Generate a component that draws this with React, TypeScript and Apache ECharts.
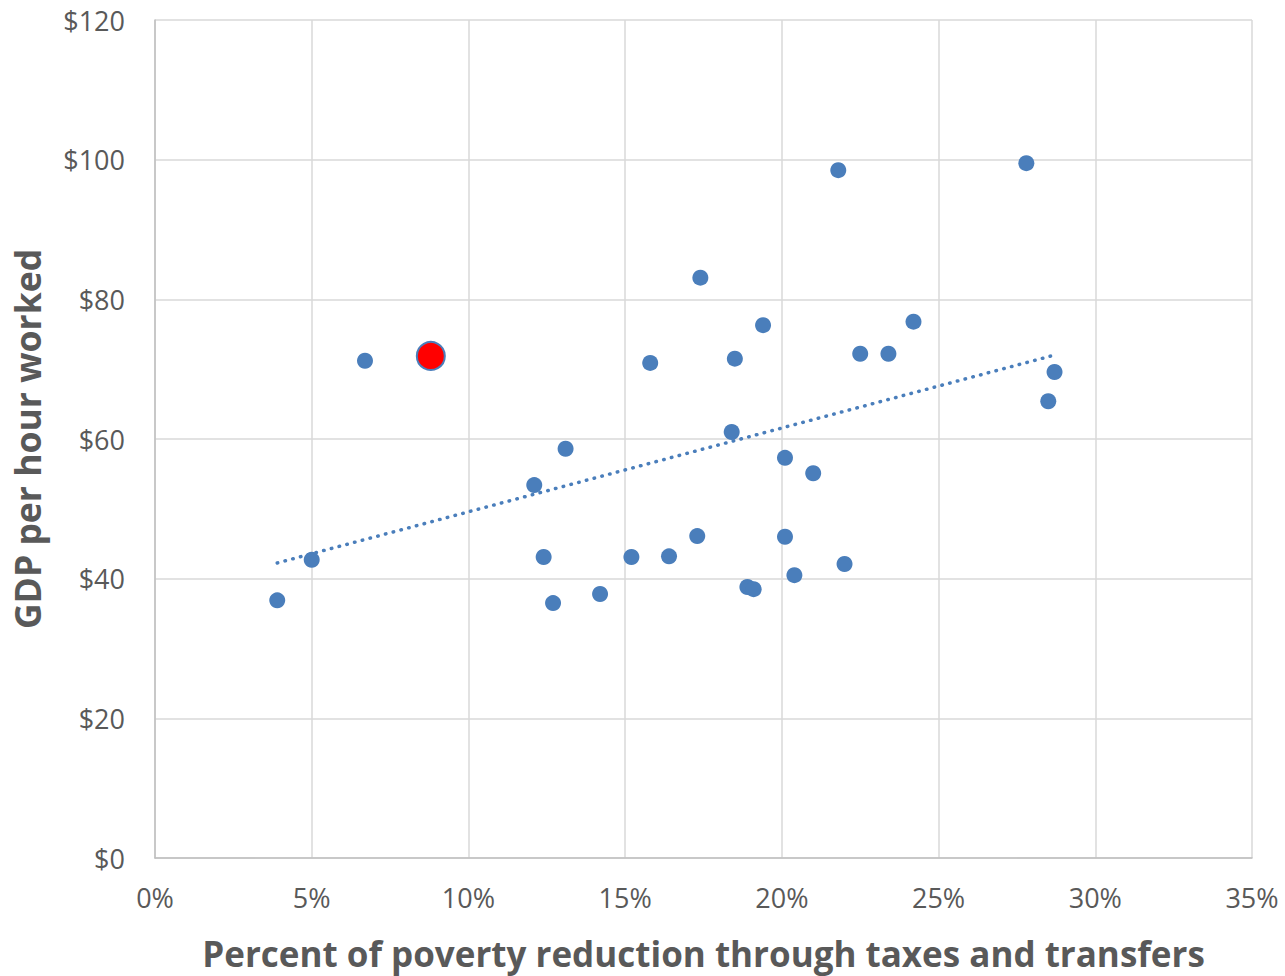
import React, { useEffect, useRef } from "react";
import * as echarts from "echarts";

const povertyReduction: number[] = [
  3.9, 5.0, 6.7, 12.1, 12.4, 12.7, 13.1, 14.2, 15.2, 15.8, 16.4, 17.3, 17.4, 18.4, 18.5,
  18.9, 19.1, 19.4, 20.1, 20.1, 20.4, 21.0, 21.8, 22.0, 22.5, 23.4, 24.2, 27.8, 28.5, 28.7,
];
const gdpPerHour: number[] = [
  36.9, 42.7, 71.2, 53.4, 43.1, 36.5, 58.6, 37.8, 43.1, 70.9, 43.2, 46.1, 83.1, 61.0, 71.5,
  38.8, 38.5, 76.3, 57.3, 46.0, 40.5, 55.1, 98.5, 42.1, 72.2, 72.2, 76.8, 99.5, 65.4, 69.6,
];
const highlightPoint: [number, number] = [8.8, 71.9];

const xTicks = [0, 5, 10, 15, 20, 25, 30, 35];
const yTicks = [0, 20, 40, 60, 80, 100, 120];

const xTitle = "Percent of poverty reduction through taxes and transfers";
const yTitle = "GDP per hour worked";

function linearFit(xs: number[], ys: number[]) {
  const n = xs.length;
  const mx = xs.reduce((a, b) => a + b, 0) / n;
  const my = ys.reduce((a, b) => a + b, 0) / n;
  let sxy = 0;
  let sxx = 0;
  for (let i = 0; i < n; i++) {
    sxy += (xs[i] - mx) * (ys[i] - my);
    sxx += (xs[i] - mx) * (xs[i] - mx);
  }
  const slope = sxy / sxx;
  return { slope, intercept: my - slope * mx };
}

export default function App() {
  const ref = useRef<HTMLDivElement>(null);
  useEffect(() => {
    if (!ref.current) return;
    const chart = echarts.init(ref.current, null, { renderer: "svg" });
    const font = "'Open Sans', sans-serif";
    const allX = [...povertyReduction, highlightPoint[0]];
    const allY = [...gdpPerHour, highlightPoint[1]];
    const fit = linearFit(allX, allY);
    const minX = Math.min(...allX);
    const maxX = Math.max(...allX);
    const trend = [
      [minX, fit.intercept + fit.slope * minX],
      [maxX, fit.intercept + fit.slope * maxX],
    ];
    const blue = "#4a7ebb";
    chart.setOption({
      animation: false,
      backgroundColor: "#ffffff",
      grid: { left: 155, right: 33, top: 20, bottom: 118, outerBoundsMode: "none", containLabel: false },
      xAxis: {
        type: "value",
        min: xTicks[0],
        max: xTicks[xTicks.length - 1],
        interval: 5,
        axisLine: { show: true, lineStyle: { color: "#bfbfbf", width: 1.5 } },
        axisTick: { show: false },
        splitLine: { show: true, lineStyle: { color: "#d9d9d9", width: 1.5 } },
        axisLabel: {
          formatter: (v: number) => `${v}%`,
          color: "#595959",
          fontSize: 27,
          fontFamily: font,
          margin: 26,
        },
        name: xTitle,
        nameLocation: "middle",
        nameGap: 78,
        nameTextStyle: { color: "#595959", fontSize: 35, fontWeight: "bold", fontFamily: font },
      },
      yAxis: {
        type: "value",
        min: yTicks[0],
        max: yTicks[yTicks.length - 1],
        interval: 20,
        axisLine: { show: true, lineStyle: { color: "#bfbfbf", width: 1.5 } },
        axisTick: { show: false },
        splitLine: { show: true, lineStyle: { color: "#d9d9d9", width: 1.5 } },
        axisLabel: {
          formatter: (v: number) => `$${v}`,
          color: "#595959",
          fontSize: 27,
          fontFamily: font,
          margin: 30,
        },
        name: yTitle,
        nameLocation: "middle",
        nameGap: 110,
        nameTextStyle: { color: "#595959", fontSize: 35.5, fontWeight: "bold", fontFamily: font },
      },
      series: [
        {
          type: "line",
          data: trend,
          symbol: "none",
          lineStyle: { color: blue, width: 3.5, type: [0.5, 7.5], cap: "round", opacity: 1 },
          z: 1,
        },
        {
          type: "scatter",
          data: povertyReduction.map((x, i) => [x, gdpPerHour[i]]),
          symbolSize: 16,
          itemStyle: { color: blue, opacity: 1 },
          z: 2,
        },
        {
          type: "scatter",
          data: [highlightPoint],
          symbolSize: 28,
          itemStyle: { color: "#ff0000", borderColor: blue, borderWidth: 2, opacity: 1 },
          z: 3,
        },
      ],
    });
    return () => chart.dispose();
  }, []);
  return (
    <div
      ref={ref}
      style={{ position: "fixed", left: 0, top: 0, width: 1285, height: 976 }}
    />
  );
}
